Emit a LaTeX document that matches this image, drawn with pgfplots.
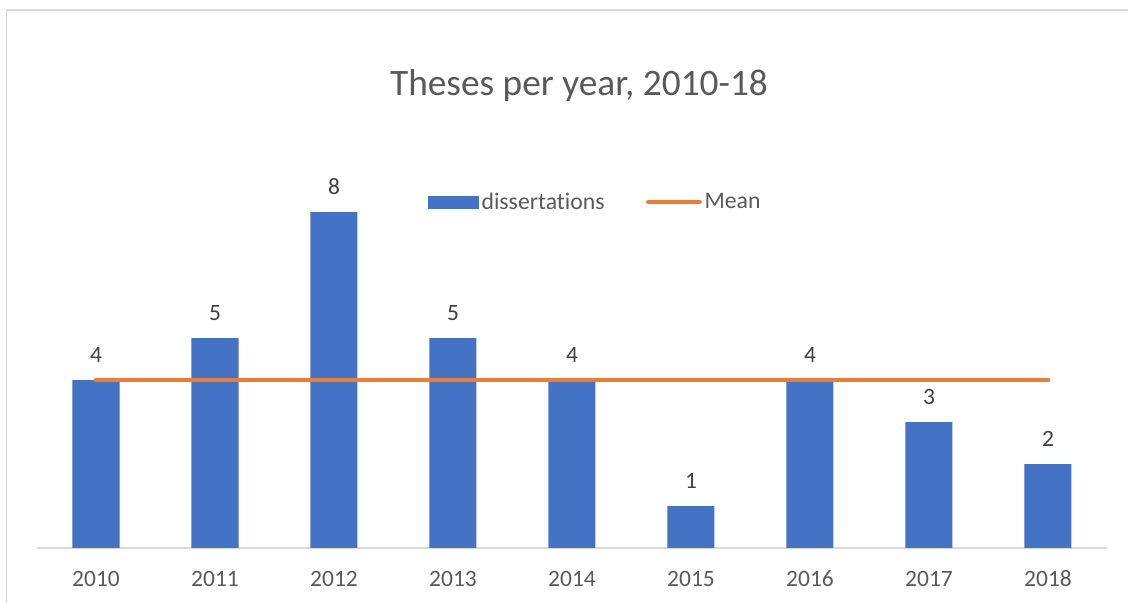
\documentclass[border=0pt]{standalone}
\usepackage{pgfplots}
\pgfplotsset{compat=1.18}
\usepackage{fontspec}
\setmainfont{Carlito}[RawFeature={-liga;-dlig;-calt;-clig}]
\definecolor{barblue}{HTML}{4472C4}
\definecolor{meanorange}{HTML}{ED7D31}
\definecolor{txtgray}{HTML}{595959}
\definecolor{lblgray}{HTML}{404040}
\definecolor{linegray}{HTML}{D9D9D9}
\begin{document}
\begin{tikzpicture}
\useasboundingbox (0,0) rectangle (846pt,452.25pt);
\draw[linegray, line width=1.3pt] (4.9pt,0pt) -- (4.9pt,444.75pt) -- (846pt,444.75pt);
\begin{axis}[
  at={(27.375pt,41.25pt)}, anchor=south west,
  scale only axis, width=803.25pt, height=283.5pt,
  xmin=-0.5, xmax=8.5, ymin=0, ymax=9,
  hide y axis,
  axis x line*=bottom,
  x axis line style={-, draw=linegray, line width=1.2pt},
  xtick={0,...,8},
  xticklabels={2010,2011,2012,2013,2014,2015,2016,2017,2018},
  xtick style={draw=none},
  major tick length=0pt,
  xticklabel style={font=\fontsize{17.6}{20}\selectfont, text=txtgray, inner sep=0pt, anchor=base, yshift=-29.25pt},
  /pgf/number format/assume math mode=true,
  title={Theses per year, 2010-18},
  title style={at={(0.5065,1)}, anchor=base, yshift=50.25pt, font=\fontsize{28}{32}\selectfont, text=txtgray, inner sep=0pt},
  legend columns=2,
  legend style={at={(0.522,0.915)}, anchor=center, draw=none, fill=none,
    font=\fontsize{17.8}{20}\selectfont, text=txtgray,
    /tikz/every even column/.append style={column sep=29pt}},
  clip=false,
]
\addplot[ybar, bar width=35.25pt, fill=barblue, draw=none,
  nodes near coords,
  every node near coord/.append style={font=\fontsize{17.6}{20}\selectfont, text=lblgray, inner sep=0pt, anchor=base, yshift=13.3pt},
  legend image code/.code={\fill[barblue] (-1.5pt,-4.875pt) rectangle (36.75pt,4.875pt);}]
  coordinates {(0,4) (1,5) (2,8) (3,5) (4,4) (5,1) (6,4) (7,3) (8,2)};
\addlegendentry{dissertations}
\addplot[meanorange, line width=3.5pt, line cap=round, mark=none,
  legend image code/.code={\draw[meanorange, line width=3.5pt, line cap=round] (1.5pt,0pt) -- (40pt,0pt);}]
  coordinates {(0,4) (1,4) (2,4) (3,4) (4,4) (5,4) (6,4) (7,4) (8,4)};
\addlegendentry{Mean}
\end{axis}
\end{tikzpicture}
\end{document}
